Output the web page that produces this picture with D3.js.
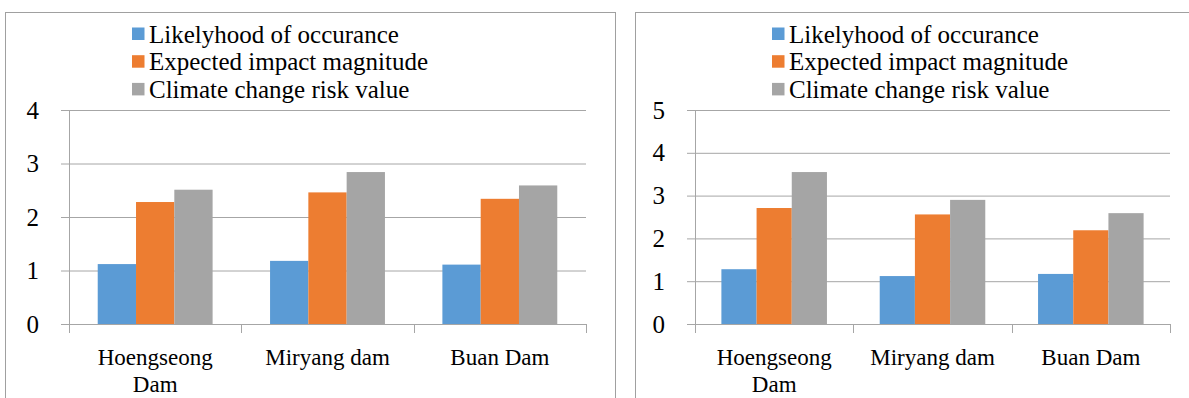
<!DOCTYPE html>
<html>
<head>
<meta charset="utf-8">
<script src="https://cdn.jsdelivr.net/npm/d3@7"></script>
<style>
  html, body { margin: 0; padding: 0; background: #fff; }
  svg { display: block; }
  svg text { font-family: "Liberation Serif", "Times New Roman", Times, serif; }
</style>
</head>
<body>
<svg id="chart" width="1189" height="398"></svg>
<script>
// Shared categories and series names
const categories = ["Hoengseong Dam", "Miryang dam", "Buan Dam"];
const seriesNames = ["Likelyhood of occurance", "Expected impact magnitude", "Climate change risk value"];
const seriesColors = ["#5b9bd5", "#ed7d31", "#a5a5a5"];

// Left panel values
const leftLikelihood = [1.12, 1.18, 1.11];
const leftImpact = [2.28, 2.46, 2.34];
const leftRisk = [2.51, 2.84, 2.59];
const leftTicks = [0, 1, 2, 3, 4];

// Right panel values
const rightLikelihood = [1.28, 1.12, 1.17];
const rightImpact = [2.71, 2.56, 2.19];
const rightRisk = [3.55, 2.90, 2.59];
const rightTicks = [0, 1, 2, 3, 4, 5];

const svg = d3.select("#chart");
const gridColor = "#a6a6a6";
const frameColor = "#a0a0a0";
const serif = "'Liberation Serif', 'Times New Roman', Times, serif";

function wrapLabel(textSel, maxWidth, lineHeight) {
  textSel.each(function () {
    const t = d3.select(this);
    const words = t.text().split(/\s+/);
    t.text(null);
    let line = [];
    let tspan = t.append("tspan").attr("x", 0).attr("dy", 0);
    words.forEach(w => {
      line.push(w);
      tspan.text(line.join(" "));
      if (tspan.node().getComputedTextLength() > maxWidth && line.length > 1) {
        line.pop();
        tspan.text(line.join(" "));
        line = [w];
        tspan = t.append("tspan").attr("x", 0).attr("dy", lineHeight).text(w);
      }
    });
  });
}

function drawPanel(cfg) {
  const g = svg.append("g");

  // outer chart frame
  g.append("rect")
    .attr("x", cfg.frame[0] + 0.5).attr("y", cfg.frame[1] + 0.5)
    .attr("width", cfg.frame[2]).attr("height", cfg.frame[3])
    .attr("fill", "none").attr("stroke", frameColor).attr("stroke-width", 1);

  const x0 = d3.scaleBand().domain(categories).range([cfg.left, cfg.right]).paddingInner(0).paddingOuter(0);
  const x1 = d3.scaleBand().domain(d3.range(3)).range([0, x0.bandwidth()]).paddingInner(0).paddingOuter(0.75);
  const y = d3.scaleLinear().domain([0, d3.max(cfg.ticks)]).range([cfg.bottom, cfg.top]);

  // horizontal gridlines + y tick labels
  const yAxis = d3.axisLeft(y).tickValues(cfg.ticks).tickSize(-(cfg.right - cfg.left)).tickPadding(30).tickFormat(d3.format("d"));
  const ya = g.append("g").attr("transform", `translate(${cfg.left},0)`).call(yAxis)
    .attr("font-family", null).attr("font-size", null);
  ya.select(".domain").remove();
  ya.selectAll(".tick line").attr("stroke", gridColor).attr("x2", cfg.right - cfg.left).attr("x1", -8);
  ya.selectAll(".tick text").attr("font-size", 25).attr("fill", "#000").style("font-family", serif);

  // vertical axis line
  g.append("line")
    .attr("x1", cfg.left + 0.5).attr("x2", cfg.left + 0.5)
    .attr("y1", cfg.top).attr("y2", cfg.bottom + 9)
    .attr("stroke", gridColor);

  // category boundary ticks below the baseline
  const bounds = categories.map(c => x0(c)).concat([cfg.right]);
  g.selectAll(".cat-tick").data(bounds.slice(1)).join("line")
    .attr("x1", d => Math.round(d) + 0.5).attr("x2", d => Math.round(d) + 0.5)
    .attr("y1", cfg.bottom).attr("y2", cfg.bottom + 9)
    .attr("stroke", gridColor);

  // bars
  const series = [cfg.likelihood, cfg.impact, cfg.risk];
  const groups = g.selectAll(".grp").data(categories).join("g")
    .attr("transform", c => `translate(${x0(c)},0)`);
  groups.selectAll("rect")
    .data((c, i) => series.map((s, k) => ({ k, v: s[i] })))
    .join("rect")
    .attr("x", d => x1(d.k))
    .attr("width", x1.bandwidth())
    .attr("y", d => y(d.v))
    .attr("height", d => cfg.bottom - y(d.v))
    .attr("fill", d => seriesColors[d.k]);

  // category labels
  g.selectAll(".cat-label").data(categories).join("text")
    .attr("class", "cat-label")
    .attr("transform", c => `translate(${x0(c) + x0.bandwidth() / 2},${cfg.bottom + 41})`)
    .attr("text-anchor", "middle")
    .attr("font-size", 23)
    .attr("fill", "#000")
    .style("font-family", serif)
    .text(c => c)
    .call(wrapLabel, 150, 27);

  // legend
  const lg = g.append("g").attr("transform", `translate(${cfg.legendX},0)`);
  seriesNames.forEach((name, i) => {
    const base = 42.5 + i * 27.7;
    lg.append("rect").attr("x", 0).attr("y", base - 15).attr("width", 12.5).attr("height", 12.5).attr("fill", seriesColors[i]);
    lg.append("text").attr("x", 17).attr("y", base).attr("font-size", 25).attr("fill", "#000")
      .style("font-family", serif).text(name);
  });
}

drawPanel({
  frame: [5, 12, 610, 420],
  left: 69, right: 586, top: 110, bottom: 324,
  ticks: leftTicks, likelihood: leftLikelihood, impact: leftImpact, risk: leftRisk,
  legendX: 132
});

drawPanel({
  frame: [635, 12, 600, 420],
  left: 695, right: 1170, top: 110, bottom: 324,
  ticks: rightTicks, likelihood: rightLikelihood, impact: rightImpact, risk: rightRisk,
  legendX: 772
});
</script>
</body>
</html>
